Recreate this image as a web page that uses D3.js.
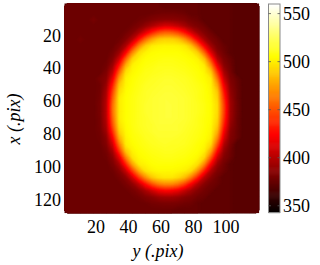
<!DOCTYPE html>
<html><head><meta charset="utf-8">
<script src="https://cdn.jsdelivr.net/npm/d3@7"></script>
</head><body style="margin:0;background:#fff">
<svg id="c" width="320" height="265" style="display:block"></svg>
<script>
// Intensity, one value per 4x4 block of pixels (32 rows x 30 columns)
const intensity = [
[377,377,377,377,377,377,377,377,377,377,377,377,377,377,377,375,375,375,375,375,375,373,373,373,373,373,371,371,371,371],
[377,377,377,377,377,377,377,377,377,377,377,377,377,378,379,380,380,379,378,375,375,373,373,373,373,373,371,371,371,371],
[377,377,377,377,381,377,377,377,377,377,377,379,381,384,386,387,387,386,384,380,378,373,373,373,373,373,371,371,371,371],
[377,377,377,377,377,377,377,377,377,377,380,384,391,399,407,412,411,405,397,388,383,379,373,373,373,373,371,371,371,371],
[377,377,377,377,377,377,377,377,377,380,386,398,416,435,449,455,454,446,431,411,395,385,379,373,373,373,371,371,371,371],
[377,377,380,377,377,377,377,377,379,386,401,429,457,476,488,491,491,486,472,450,421,397,384,379,373,373,371,371,371,371],
[377,377,377,377,377,377,377,378,384,399,432,467,490,500,502,503,503,502,499,486,459,423,395,382,377,373,371,371,371,371],
[377,377,377,377,377,377,377,381,393,424,467,494,502,505,506,506,506,506,504,501,490,457,415,388,379,373,371,371,371,371],
[377,377,377,377,377,377,378,386,410,456,492,502,506,507,508,509,509,508,507,505,502,486,444,400,383,377,371,371,371,371],
[377,377,377,377,377,377,380,394,433,481,502,505,508,509,511,511,511,510,509,507,505,500,470,420,388,379,371,371,371,371],
[377,377,377,377,377,377,384,405,456,496,504,507,510,511,512,513,513,512,511,509,507,503,490,443,397,381,371,371,371,371],
[377,377,377,377,377,382,387,420,475,502,506,509,511,513,514,515,515,514,513,511,508,505,500,462,408,384,377,371,371,371],
[377,377,377,377,377,379,392,435,488,503,507,510,513,514,515,516,516,515,514,512,510,507,502,477,421,387,378,371,371,371],
[377,377,377,377,377,380,397,447,495,505,508,511,514,515,516,517,517,516,515,513,511,508,503,488,432,390,379,371,371,371],
[377,377,377,377,377,381,400,455,500,506,509,512,514,516,517,518,517,517,516,514,511,508,504,492,440,393,379,371,371,371],
[377,377,377,377,377,382,402,460,500,506,509,512,515,516,517,518,518,517,516,514,512,509,505,495,445,395,380,371,371,371],
[377,377,377,377,377,382,402,461,500,506,509,512,515,516,517,518,518,517,516,514,512,509,505,495,446,395,380,371,371,371],
[377,377,377,377,377,381,401,457,500,506,509,512,514,516,517,518,518,517,516,514,511,508,505,493,442,394,379,371,371,371],
[377,377,377,377,377,381,398,451,497,505,509,512,514,515,517,517,517,516,515,513,511,508,504,489,435,391,379,371,371,371],
[377,377,377,377,377,380,394,440,491,504,508,511,513,515,516,516,516,516,514,512,510,507,503,481,424,387,378,371,371,371],
[377,377,377,377,377,379,388,425,480,502,507,509,512,513,515,515,515,514,513,511,509,506,501,468,413,385,378,371,371,371],
[377,377,377,377,377,378,385,410,463,500,505,508,510,512,513,514,513,513,512,510,507,504,494,450,400,382,371,371,371,371],
[377,377,377,377,377,377,381,397,442,488,502,506,508,510,511,512,512,511,510,508,506,501,478,428,391,379,371,371,371,371],
[377,377,377,377,377,377,379,388,417,465,497,504,506,508,509,510,510,509,508,506,503,492,454,407,385,378,371,371,371,371],
[377,377,377,377,377,377,377,383,398,436,477,500,503,506,507,507,507,506,505,503,496,468,424,392,380,373,371,371,371,371],
[377,377,377,377,377,377,377,379,387,407,445,478,497,502,504,504,504,503,501,494,471,435,400,384,378,373,371,371,371,371],
[377,377,377,377,377,377,377,377,381,389,411,443,470,488,496,499,499,494,485,464,435,403,387,379,373,373,371,371,371,371],
[377,377,377,377,377,377,377,377,378,382,390,406,430,450,464,469,469,461,446,423,401,387,380,377,373,373,371,371,371,371],
[377,377,377,377,377,377,377,377,377,378,381,387,397,409,420,425,424,418,406,395,386,380,377,373,373,373,371,371,371,371],
[377,377,377,377,377,377,377,377,377,377,378,380,384,387,392,394,394,391,386,383,379,377,373,373,373,373,371,371,371,371],
[377,377,377,377,377,377,377,377,377,377,377,377,378,380,381,382,382,381,379,378,375,373,373,373,373,373,371,371,371,371],
[377,377,377,377,377,377,377,377,377,377,377,377,377,377,377,377,377,375,375,375,375,373,373,373,373,373,371,371,371,371]
];
const blockSize = 4;           // pixels per stored value
const nCols = 120, nRows = 128;
const xTicks = [20, 40, 60, 80, 100];
const yTicks = [20, 40, 60, 80, 100, 120];
const cbTicks = [350, 400, 450, 500, 550];
const cLimits = [343, 560];
const xLabel = "y (.pix)";
const yLabel = "x (.pix)";

const FONT = "Liberation Serif";
const svg = d3.select("#c");
const P = {left: 64.3, right: 259.3, top: 3.3, bottom: 213.3};
const x = d3.scaleLinear().domain([0.5, nCols + 0.5]).range([P.left, P.right]);
const y = d3.scaleLinear().domain([0.5, nRows + 0.5]).range([P.top, P.bottom]);

function hot(t) {
  t = Math.max(0, Math.min(1, t));
  const r = Math.min(1, t / 0.375);
  const g = Math.max(0, Math.min(1, (t - 0.375) / 0.375));
  const b = Math.max(0, Math.min(1, (t - 0.75) / 0.25));
  return `rgb(${Math.round(r * 255)},${Math.round(g * 255)},${Math.round(b * 255)})`;
}
const color = d3.scaleSequential(hot).domain(cLimits);

// image via filled contours of the block grid
const gw = intensity[0].length, gh = intensity.length;
const values = intensity.flat();
const thresholds = d3.range(366, 530, 1);
const contours = d3.contours().size([gw, gh]).thresholds(thresholds)(values);
const proj = d3.geoTransform({
  point(px, py) { this.stream.point(x(px * blockSize + 0.5), y(py * blockSize + 0.5)); }
});
const path = d3.geoPath(proj);

svg.append("clipPath").attr("id", "clip").append("rect")
  .attr("x", P.left).attr("y", P.top).attr("width", P.right - P.left).attr("height", P.bottom - P.top);
const g = svg.append("g").attr("clip-path", "url(#clip)");
g.append("rect").attr("x", P.left).attr("y", P.top)
  .attr("width", P.right - P.left).attr("height", P.bottom - P.top)
  .attr("fill", color(d3.min(values)));
g.selectAll("path").data(contours).join("path")
  .attr("d", path)
  .attr("fill", d => color(d.value + 0.5))
  .attr("stroke", d => color(d.value + 0.5))
  .attr("stroke-width", 0.3);

// axes tick labels
const fs = 18;
svg.append("g").selectAll("text").data(xTicks).join("text")
  .attr("font-family", FONT)
  .attr("x", d => x(d)).attr("y", 233)
  .attr("text-anchor", "middle").attr("font-size", fs).text(d => d);
svg.append("g").selectAll("text").data(yTicks).join("text")
  .attr("font-family", FONT)
  .attr("x", 61).attr("y", d => y(d)).attr("dy", "0.35em")
  .attr("text-anchor", "end").attr("font-size", fs).text(d => d);

svg.append("text").attr("x", 158).attr("y", 257).attr("font-family", FONT)
  .attr("text-anchor", "middle").attr("font-size", fs).attr("font-style", "italic").text(xLabel);
svg.append("text").attr("transform", "translate(20,119) rotate(-90)").attr("font-family", FONT)
  .attr("text-anchor", "middle").attr("font-size", fs).attr("font-style", "italic").text(yLabel);

// colorbar
const CB = {left: 268.5, right: 280, top: 4, bottom: 212.5};
const cy = d3.scaleLinear().domain(cLimits).range([CB.bottom, CB.top]);
const cbSteps = d3.range(cLimits[0], cLimits[1], 1);
svg.append("g").selectAll("rect").data(cbSteps).join("rect")
  .attr("x", CB.left).attr("width", CB.right - CB.left)
  .attr("y", d => cy(Math.min(d + 1, cLimits[1])))
  .attr("height", d => cy(d) - cy(Math.min(d + 1, cLimits[1])) + 0.6)
  .attr("fill", d => color(d + 0.5));
svg.append("rect").attr("x", CB.left).attr("y", CB.top)
  .attr("width", CB.right - CB.left).attr("height", CB.bottom - CB.top)
  .attr("fill", "none").attr("stroke", "#8a8a8a").attr("stroke-width", 1);
const cbt = svg.append("g");
cbTicks.forEach(t => {
  cbt.append("line").attr("x1", CB.left).attr("x2", CB.left + 2.5)
    .attr("y1", cy(t)).attr("y2", cy(t)).attr("stroke", "#555").attr("stroke-width", 0.8);
  cbt.append("line").attr("x1", CB.right - 2.5).attr("x2", CB.right)
    .attr("y1", cy(t)).attr("y2", cy(t)).attr("stroke", "#555").attr("stroke-width", 0.8);
});
cbt.selectAll("text").data(cbTicks).join("text")
  .attr("font-family", FONT)
  .attr("x", 283).attr("y", d => cy(d)).attr("dy", "0.35em")
  .attr("font-size", fs).text(d => d);
</script>
</body></html>
